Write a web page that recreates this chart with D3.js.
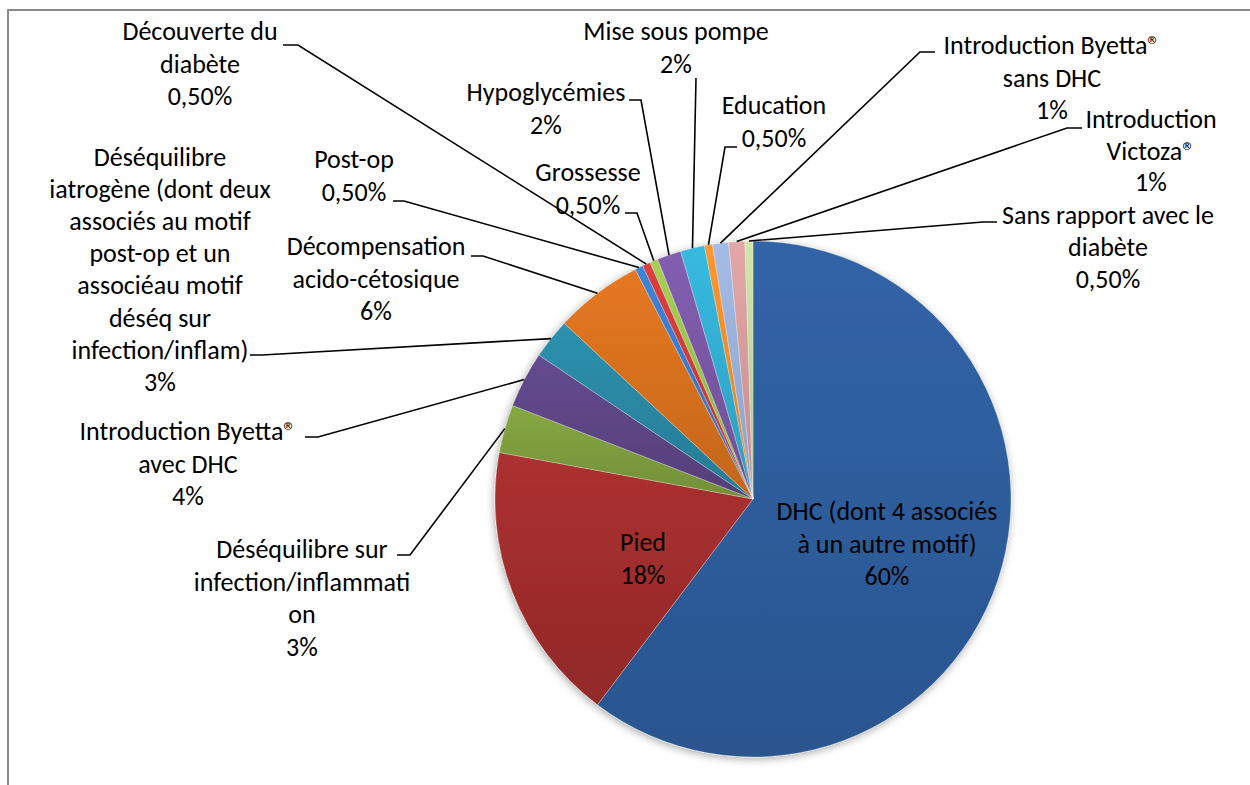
<!DOCTYPE html>
<html><head><meta charset="utf-8">
<script src="https://cdn.jsdelivr.net/npm/d3@7"></script>
<style>
html,body{margin:0;padding:0;background:#fff;overflow:hidden}
svg{display:block}
text{font-family:Carlito,Calibri,Lato,"Noto Sans",sans-serif;font-size:26px;fill:#000}
</style></head><body>
<svg id="chart" width="1250" height="785"></svg>
<script>
// ---- data ----
const categories = [
  "DHC (dont 4 associés à un autre motif)",
  "Pied",
  "Déséquilibre sur infection/inflammation",
  "Introduction Byetta® avec DHC",
  "Déséquilibre iatrogène (dont deux associés au motif post-op et un associéau motif déséq sur infection/inflam)",
  "Décompensation acido-cétosique",
  "Post-op",
  "Découverte du diabète",
  "Grossesse",
  "Hypoglycémies",
  "Mise sous pompe",
  "Education",
  "Introduction Byetta® sans DHC",
  "Introduction Victoza®",
  "Sans rapport avec le diabète"
];
const counts = [120, 35, 6, 7, 5, 11, 1, 1, 1, 3, 3, 1, 2, 2, 1];
// label text as wrapped in the chart
const labelLines = [
  ["DHC (dont 4 associés", "à un autre motif)"],
  ["Pied"],
  ["Déséquilibre sur", "infection/inflammati", "on"],
  ["Introduction Byetta®", "avec DHC"],
  ["Déséquilibre", "iatrogène (dont deux", "associés au motif", "post-op et un", "associéau motif", "déséq sur", "infection/inflam)"],
  ["Décompensation", "acido-cétosique"],
  ["Post-op"],
  ["Découverte du", "diabète"],
  ["Grossesse"],
  ["Hypoglycémies"],
  ["Mise sous pompe"],
  ["Education"],
  ["Introduction Byetta®", "sans DHC"],
  ["Introduction", "Victoza®"],
  ["Sans rapport avec le", "diabète"]
];

// ---- style / layout ----
const colors = ["#2E5E9E","#A12D2D","#7E9E3E","#5E4686","#2A88A3","#D8711F",
                "#3A7CCB","#CD3B3B","#9DC24E","#7A58A6","#34AED2","#F58D2B",
                "#9AB1DA","#D69D9D","#C3D9A0"];
const cx = 753, cy = 499, R = 258;
const lineH = 32.5;
// label layout: centre x, first baseline y, leader tick [x0,y0,x1,y1]
const layout = [
  {x: 887, y: 520, inside: true},
  {x: 643, y: 551, inside: true},
  {x: 302, y: 558, tick: [397, 555, 410, 555]},
  {x: 188, y: 440, tick: [305, 437, 318, 437]},
  {x: 160, y: 166, step: 32.1, tick: [250, 355, 262, 355]},
  {x: 376, y: 255, tick: [471, 256, 483, 256]},
  {x: 354, y: 168, tick: [393, 201, 404, 201]},
  {x: 200, y: 40,  tick: [283, 45, 298, 45]},
  {x: 588, y: 181, tick: [625, 213, 637, 213]},
  {x: 546, y: 101, tick: [629, 100, 641, 100]},
  {x: 676, y: 40,  tick: [696, 78, 696, 78]},
  {x: 774, y: 114, tick: [737, 147, 725, 147]},
  {x: 1052, y: 54, tick: [935, 52, 920, 52]},
  {x: 1151, y: 128, step: 31.5, tick: [1082, 128, 1067, 128]},
  {x: 1108, y: 224, step: 32, tick: [997, 222, 983, 222]}
];

const svg = d3.select("#chart");
const defs = svg.append("defs");

// frame
svg.append("rect").attr("x", 8).attr("y", 10).attr("width", 1300).attr("height", 820)
  .attr("fill", "none").attr("stroke", "#8a8a8a").attr("stroke-width", 2);

// shadow filter
const f = defs.append("filter").attr("id", "sh").attr("x", "-10%").attr("y", "-10%").attr("width", "120%").attr("height", "120%");
f.append("feGaussianBlur").attr("in", "SourceAlpha").attr("stdDeviation", 4).attr("result", "b");
f.append("feOffset").attr("in", "b").attr("dx", -1).attr("dy", 2).attr("result", "o");
f.append("feComponentTransfer").attr("in", "o").attr("result", "o2")
  .append("feFuncA").attr("type", "linear").attr("slope", 0.35);
const m = f.append("feMerge");
m.append("feMergeNode").attr("in", "o2");
m.append("feMergeNode").attr("in", "SourceGraphic");

colors.forEach((c, i) => {
  const g = defs.append("linearGradient").attr("id", "g" + i)
    .attr("x1", 0).attr("y1", 0).attr("x2", 0).attr("y2", 1);
  g.append("stop").attr("offset", "0%").attr("stop-color", d3.color(c).brighter(0.18));
  g.append("stop").attr("offset", "100%").attr("stop-color", d3.color(c).darker(0.28));
});

const total = d3.sum(counts);
const loc = d3.formatLocale({decimal: ",", thousands: " ", grouping: [3], currency: ["", "€"]});
const fmtPct = v => {
  const p = v / total;
  return p * 100 < 0.995 ? loc.format(".2%")(p) : loc.format(".0%")(p);
};

const pie = d3.pie().sort(null).value(d => d).startAngle(0).endAngle(2 * Math.PI);
const arcs = pie(counts);
const arc = d3.arc().innerRadius(0).outerRadius(R);

const gPie = svg.append("g").attr("transform", `translate(${cx},${cy})`).attr("filter", "url(#sh)");
gPie.selectAll("path").data(arcs).join("path")
  .attr("d", arc)
  .attr("fill", (d, i) => `url(#g${i})`)
  .attr("stroke", "rgba(255,255,255,0.35)")
  .attr("stroke-width", 0.8);

// leader lines
const gLead = svg.append("g");
arcs.forEach((a, i) => {
  const L = layout[i];
  if (L.inside) return;
  const mid = (a.startAngle + a.endAngle) / 2;
  const ex = cx + R * Math.sin(mid), ey = cy - R * Math.cos(mid);
  const t = L.tick;
  gLead.append("polyline")
    .attr("points", [[t[0], t[1]], [t[2], t[3]], [ex, ey]].map(p => p.join(",")).join(" "))
    .attr("fill", "none").attr("stroke", "#000").attr("stroke-width", 1.6);
});

// labels
const gLab = svg.append("g");
arcs.forEach((a, i) => {
  const L = layout[i];
  const lines = labelLines[i].concat([fmtPct(counts[i])]);
  const step = L.step || lineH;
  const t = gLab.append("text").attr("text-anchor", "middle");
  lines.forEach((s, k) => {
    t.append("tspan").attr("x", L.x).attr("y", L.y + k * step).text(s);
  });
});
</script>
</body></html>
